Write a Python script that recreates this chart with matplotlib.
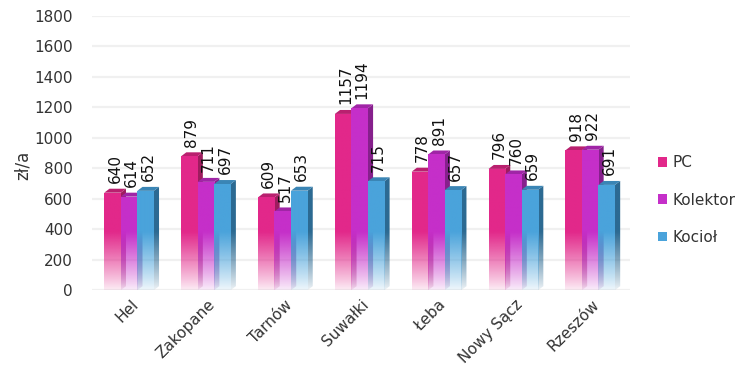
import numpy as np
import matplotlib
matplotlib.use("Agg")
import matplotlib.pyplot as plt
from matplotlib.patches import Polygon, Rectangle
from matplotlib.colors import to_rgb

cities = ["Hel", "Zakopane", "Tarnów", "Suwałki", "Łeba", "Nowy Sącz", "Rzeszów"]
series_names = ["PC", "Kolektor", "Kocioł"]
pc = [640, 879, 609, 1157, 778, 796, 918]
kolektor = [614, 711, 517, 1194, 891, 760, 922]
kociol = [652, 697, 653, 715, 657, 659, 691]
yticks = [0, 200, 400, 600, 800, 1000, 1200, 1400, 1600, 1800]

front_colors = ["#E2288A", "#C52FC9", "#4AA3DB"]
side_colors = ["#9E1C5F", "#86208C", "#2C6A92"]
top_colors = ["#B9206F", "#A025A6", "#3A85B5"]

plt.rcParams["font.family"] = ["DejaVu Sans"]

fig = plt.figure(figsize=(7.37, 3.72), dpi=100)
ax = fig.add_axes([0.125, 0.220, 0.730, 0.737])

ax.set_xlim(-0.5, len(cities) - 0.5)
ax.set_ylim(0, 1800)
for s in ax.spines.values():
    s.set_visible(False)
ax.set_yticks(yticks)
ax.tick_params(axis="y", length=0, pad=14, labelsize=11, labelcolor="#333333")
ax.tick_params(axis="x", length=0)
for t in yticks:
    ax.axhline(t, color="#F0F0F0", lw=1.6, zorder=0)

width = 0.215
dx = 0.068   # depth of the side face (x data units)
dy = 26      # depth of the top face (y data units)
fade_top = 380.0


def fade_image(color, h, n=200):
    ys = np.linspace(0, h, n)
    a = np.clip(ys / fade_top, 0, 1) ** 0.9
    a = 0.08 + 0.92 * a
    rgb = np.array(to_rgb(color))
    img = np.ones((n, 1, 4))
    img[:, 0, :3] = rgb
    img[:, 0, 3] = a
    return img


x = np.arange(len(cities))
offsets = [-width - 0.02, -0.02, width - 0.02]
data = [pc, kolektor, kociol]

for j, vals in enumerate(data):
    for i, h in enumerate(vals):
        x0 = x[i] + offsets[j] - width / 2
        x1 = x0 + width
        z = 2 + j
        # side face
        side = Polygon([(x1, 0), (x1, h), (x1 + dx, h + dy), (x1 + dx, dy)],
                       closed=True, facecolor="none", edgecolor="none", zorder=z)
        ax.add_patch(side)
        im = ax.imshow(fade_image(side_colors[j], h + dy), extent=(x1, x1 + dx, 0, h + dy),
                       origin="lower", aspect="auto", zorder=z, interpolation="bilinear")
        im.set_clip_path(side)
        # top face
        ax.add_patch(Polygon([(x0, h), (x1, h), (x1 + dx, h + dy), (x0 + dx, h + dy)],
                             closed=True, facecolor=top_colors[j], edgecolor="none", zorder=z))
        # front face
        front = Rectangle((x0, 0), width, h, facecolor="none", edgecolor="none", zorder=z)
        ax.add_patch(front)
        im = ax.imshow(fade_image(front_colors[j], h), extent=(x0, x1, 0, h),
                       origin="lower", aspect="auto", zorder=z, interpolation="bilinear")
        im.set_clip_path(front)
        # value label
        ax.annotate(str(h), (x0 + width / 2 + dx / 2, h + dy), xytext=(0, 4),
                    textcoords="offset points", rotation=90, ha="center", va="bottom",
                    fontsize=11, color="#111111", zorder=10)

ax.set_xticks(x)
ax.set_xticklabels(cities, rotation=45, ha="right", rotation_mode="anchor",
                   fontsize=11, color="#333333")
ax.tick_params(axis="x", pad=5)
ax.set_ylabel("zł/a", fontsize=12, color="#333333")
ax.yaxis.set_label_coords(-0.112, 0.455)

handles = [Rectangle((0, 0), 1, 1, facecolor=c, edgecolor="none") for c in front_colors]
fig.legend(handles, series_names, loc="center left", bbox_to_anchor=(0.874, 0.462),
           frameon=False, fontsize=11, handlelength=0.6, handleheight=0.6,
           handletextpad=0.35, labelspacing=1.45, labelcolor="#333333")

fig.savefig("out.png", dpi=100)
